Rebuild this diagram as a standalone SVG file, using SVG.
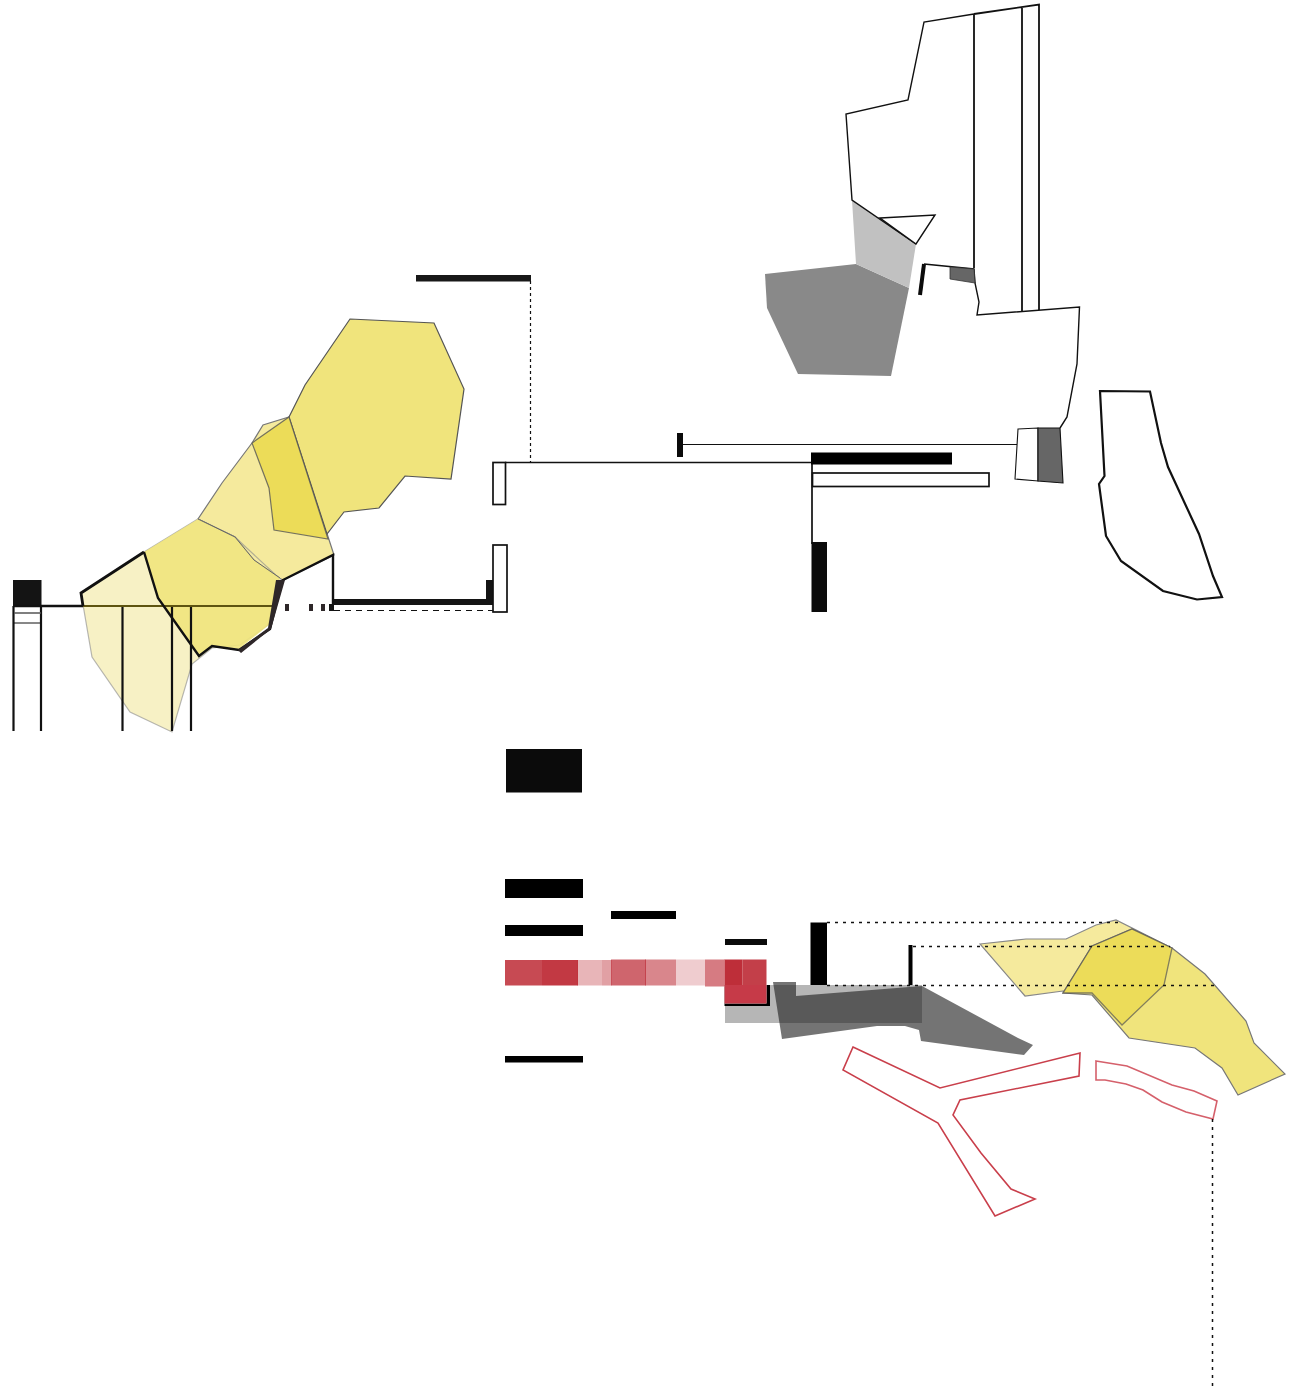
<svg xmlns="http://www.w3.org/2000/svg" width="1294" height="1394" viewBox="0 0 1294 1394">
<style>
.w{fill:#fff;stroke:#111;stroke-width:1.7}
.o{fill:none;stroke:#111;stroke-width:2.200}
.t{fill:none;stroke:#111;stroke-width:1.400}
.y1{fill:#f0e47c;stroke:#555;stroke-width:1.200}
.y2{fill:#e9d84a;stroke:#555;stroke-opacity:.7;stroke-width:1.300}
.y3{fill:#f3e68c;fill-opacity:.85;stroke:#777;stroke-width:1.200}
.y4{fill:#f2e9a6;fill-opacity:.65;stroke:#888;stroke-opacity:.6;stroke-width:1.200}
.d{fill:none;stroke:#111;stroke-width:1.500;stroke-dasharray:3 5}
.r{fill:#bd2a35}
.rl{fill:#fff;stroke:#c93f4b;stroke-width:1.600}
.q{fill:#2e2729}
</style>
<g id="left-plan">
<polygon class="y3" points="252,443 263,425 289,417 334,555 283,580 279,578 254,560 235,537 198,519 222,483"/>
<polygon class="y1" points="350,319 434,323 464,389 451,479 405,476 379,508 344,512 327,534 289,417 305,385"/>
<polygon class="y1" style="fill:#ecdc58;stroke-opacity:.8" points="252,443 289,417 328,539 274,530 269,488"/>
<polygon class="y4" points="81,593 144,552 198,519 235,537 279,578 268,625 240,645 212,648 192,664 172,732 130,712 92,657"/>
<polygon class="y1" style="fill-opacity:.9;stroke:none" points="144,552 198,519 235,537 254,560 280,578 270,624 239,649 212,646 199,656 158,598"/>
<path d="M198,519 L235,537 L254,560 L280,578" fill="none" stroke="#666" stroke-width="1"/>
<rect x="13" y="580" width="28.500" height="26" fill="#141414"/>
<path class="o" d="M13.500,606V731M41,606V731M122.500,606V731M172,606V731M191,606V731"/>
<path fill="none" stroke="#555" stroke-width="1.500" d="M14,613H41"/>
<path fill="none" stroke="#111" stroke-width="1" d="M14,623H41"/>
<path d="M14,606H83" fill="none" stroke="#111" stroke-width="2.500"/>
<path d="M83,606H273" fill="none" stroke="#5e5410" stroke-width="2.200"/>
<path d="M144,552L158,598L199,656L212,646L239,650L270,629L276,605L283,580L333,555V604" fill="none" stroke="#111" stroke-width="2.400"/>
<path d="M144,552L81,593L83,606" fill="none" stroke="#111" stroke-width="2.800"/>
<polygon class="q" points="276,580 285,580 271,629 241,653 238,650 268,628"/>
<rect class="q" x="285" y="604" width="4" height="7"/>
<rect class="q" x="309" y="604" width="4" height="7"/>
<rect class="q" x="321" y="604" width="4" height="7"/>
<rect x="329" y="604" width="5" height="7" fill="#141414"/>
<rect x="334" y="599" width="153" height="6" fill="#141414"/>
<rect x="486" y="580" width="7" height="25" fill="#141414"/>
<path d="M334,610.500H493" fill="none" stroke="#111" stroke-width="1.100" stroke-dasharray="6 5"/>
<rect class="w" x="493" y="545" width="14" height="67"/>
<rect class="w" x="493" y="462.500" width="12.500" height="42"/>
<rect x="416" y="275" width="115" height="6.500" fill="#181818"/>
<path d="M530.500,281V462" fill="none" stroke="#111" stroke-width="1.200" stroke-dasharray="3 3"/>
</g>
<g id="connectors">
<path d="M505,462.500H812V544" fill="none" stroke="#111" stroke-width="1.700"/>
<path d="M682,444.500H1017" fill="none" stroke="#111" stroke-width="1.100"/>
</g>
<g id="center-bars">
<rect x="677" y="433" width="6" height="24" fill="#0b0b0b"/>
<rect x="811" y="452.500" width="141" height="12" fill="#000"/>
<rect class="w" x="812.500" y="473" width="176.500" height="13.500"/>
<rect x="811.500" y="542" width="15.500" height="70" fill="#0b0b0b"/>
</g>
<g id="top-plan">
<polygon fill="#898989" points="765,274 856,264 909,288 891,376 798,374 767,308"/>
<polygon fill="#c1c1c1" points="852,200 916,244 909,288 856,264"/>
<path class="t" d="M974,14L924,22L908,100L846,114L852,200L916,244" style="fill:#fff"/>
<polygon class="t" style="fill:#fff" points="880,218 935,215 916,244"/>
<path d="M974,14L1039,4.500V310M1022,7V311M974,14V268" fill="none" stroke="#111" stroke-width="1.800"/>
<path class="t" d="M924,264L974,269L975,283L979,302L977,315L1079.500,307L1077,364L1067,417L1060,428"/>
<polygon fill="#666" stroke="#333" stroke-width=".8" points="950,267 974,269 975,283 950,279"/>
<path d="M924,264L920,295" fill="none" stroke="#0b0b0b" stroke-width="4"/>
<polygon fill="#fff" stroke="#111" stroke-width="1.100" points="1018,429 1038,428 1038,481 1015,479"/>
<polygon fill="#666" stroke="#111" stroke-width="1.100" points="1038,428 1060,428 1063,483 1038,481"/>
<polygon fill="#fff" stroke="#111" stroke-width="2.200" points="1100,391 1150,391.500 1161,443 1168,467 1199,534 1213,576 1222,597 1197,599.500 1163,591 1121,561 1106,536 1099,484 1104.500,476"/>
</g>
<g id="lower-bars">
<rect x="506" y="749" width="76" height="43.500" fill="#0b0b0b"/>
<rect x="505" y="879" width="78" height="19" fill="#000"/>
<rect x="505" y="925" width="78" height="11" fill="#000"/>
<rect x="611" y="911" width="65" height="8" fill="#000"/>
<rect x="725" y="939" width="42" height="6" fill="#0b0b0b"/>
<rect x="505" y="1056" width="78" height="6.500" fill="#000"/>
<rect x="810.500" y="922.500" width="16.500" height="62.500" fill="#000"/>
<rect x="908.500" y="945" width="4" height="40" fill="#000"/>
</g>
<g id="gray-wedge">
<rect x="725" y="985" width="197" height="38" fill="#b6b6b6"/>
<polygon fill="#232323" opacity=".63" points="773,982 796,982 796,996 922,986 1018,1038 1033,1045 1024,1055 921,1041 919,1030 905,1026 877,1026 782,1039"/>
</g>
<g id="red-strip">
<rect x="724.500" y="985" width="45.500" height="21" fill="#000"/>
<rect class="r" x="505" y="960" width="37" height="25.500" opacity=".85"/>
<rect class="r" x="542" y="960" width="36" height="25.500" opacity=".93"/>
<rect class="r" x="577" y="960" width="35" height="25.500" opacity=".35"/>
<rect class="r" x="602" y="960" width="9" height="25.500" opacity=".15"/>
<rect class="r" x="611" y="959.500" width="35" height="26" opacity=".72"/>
<rect class="r" x="645" y="959.500" width="31" height="26" opacity=".57"/>
<rect class="r" x="676" y="959.500" width="29" height="26" opacity=".24"/>
<rect class="r" x="705" y="959.500" width="20" height="27" opacity=".62"/>
<rect x="724.500" y="959.500" width="42" height="44" fill="#fff"/>
<rect class="r" x="724.500" y="959.500" width="18" height="26" opacity=".98"/>
<rect class="r" x="742.500" y="959.500" width="24" height="25.500" opacity=".9"/>
<rect x="724.500" y="985" width="42" height="18.500" fill="#c63a48"/>
</g>
<g id="right-plan">
<polygon class="y3" style="stroke:#888" points="980,944 1026,939 1066,939 1096,925 1116,920 1172,948 1164,985 1122,1025 1092,993 1063,991 1025,996"/>
<polygon class="y1" style="stroke:#777" points="1172,948 1205,974 1246,1021 1254,1043 1285,1074 1238,1095 1222,1068 1195,1048 1129,1038 1092,995 1063,993 1092,946 1132,929"/>
<polygon class="y2" style="fill-opacity:.7" points="1092,946 1132,929 1172,948 1164,985 1122,1025 1092,993 1063,993"/>
<polygon class="rl" points="853,1047 940,1088 1080,1053 1079,1076 960,1100 953,1115 981,1153 1011,1189 1035,1199 995,1216 938,1123 843,1070"/>
<polygon class="rl" style="stroke:#d5606b" points="1096,1061 1127,1066 1172,1085 1194,1091 1217,1101 1213,1119 1186,1112 1162,1102 1143,1090 1126,1084 1105,1080 1096,1080"/>
</g>
<g id="leaders">
<path class="d" d="M827,922.500H1118M913,946.500H1170M827,985.500H1214"/>
<path d="M1212.500,1119V1388" fill="none" stroke="#111" stroke-width="1.500" stroke-dasharray="3 5"/>
</g>
</svg>
